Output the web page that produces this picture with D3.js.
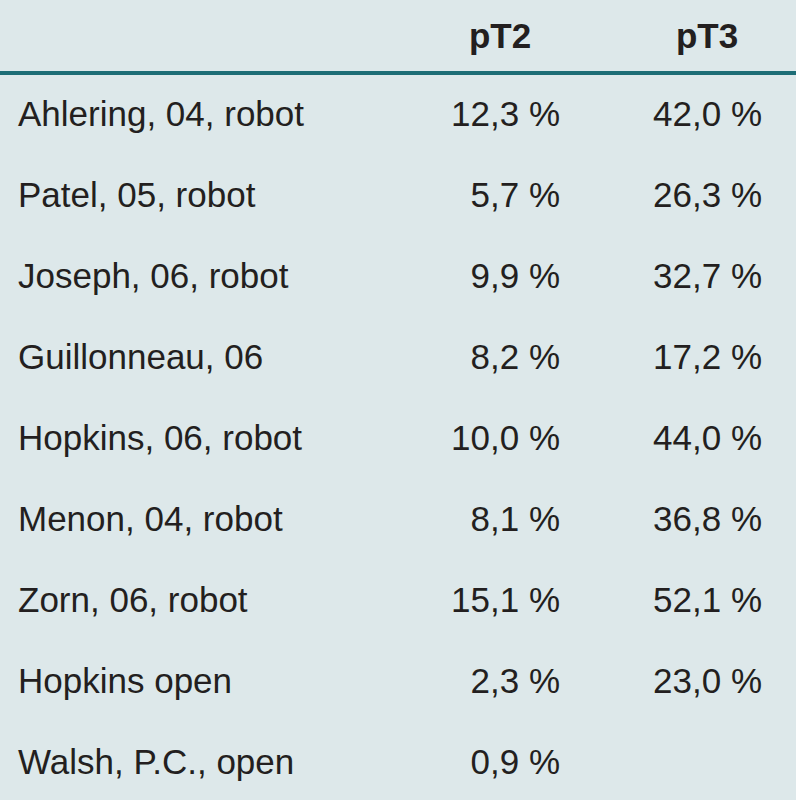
<!DOCTYPE html>
<html><head><meta charset="utf-8">
<script src="https://cdn.jsdelivr.net/npm/d3@7"></script>
<style>body{margin:0;background:#dde8ea}</style>
</head><body>
<script>
const studies = ['Ahlering, 04, robot','Patel, 05, robot','Joseph, 06, robot','Guillonneau, 06','Hopkins, 06, robot','Menon, 04, robot','Zorn, 06, robot','Hopkins open','Walsh, P.C., open'];
const pT2 = ['12,3 %','5,7 %','9,9 %','8,2 %','10,0 %','8,1 %','15,1 %','2,3 %','0,9 %'];
const pT3 = ['42,0 %','26,3 %','32,7 %','17,2 %','44,0 %','36,8 %','52,1 %','23,0 %',''];
const headers = ['pT2','pT3'];

const width = 796, height = 800;
const font = '"Liberation Sans",Arial,sans-serif';
const svg = d3.select('body').append('svg').attr('width', width).attr('height', height);
svg.append('rect').attr('width', width).attr('height', height).attr('fill', '#dde8ea');

const y = d3.scaleBand().domain(d3.range(studies.length)).range([73, 803]);
const colRight = [560, 762];
const headCenter = [500, 707];

svg.selectAll('text.h').data(headers).enter().append('text')
  .attr('x', (d, i) => headCenter[i]).attr('y', 48)
  .attr('text-anchor', 'middle').attr('font-family', font).attr('font-weight', 'bold')
  .attr('font-size', 35).attr('fill', '#231f20').text(d => d);

svg.append('line').attr('x1', 0).attr('x2', width).attr('y1', 73).attr('y2', 73)
  .attr('stroke', '#1d6d76').attr('stroke-width', 4);

const rows = svg.selectAll('g.row').data(studies).enter().append('g')
  .attr('transform', (d, i) => `translate(0, ${y(i) + y.bandwidth() / 2 + 12})`)
  .attr('font-family', font).attr('font-size', 35).attr('fill', '#231f20');

rows.append('text').attr('x', 18).text(d => d);
rows.append('text').attr('x', colRight[0]).attr('text-anchor', 'end').text((d, i) => pT2[i]);
rows.append('text').attr('x', colRight[1]).attr('text-anchor', 'end').text((d, i) => pT3[i]);
</script>
</body></html>
